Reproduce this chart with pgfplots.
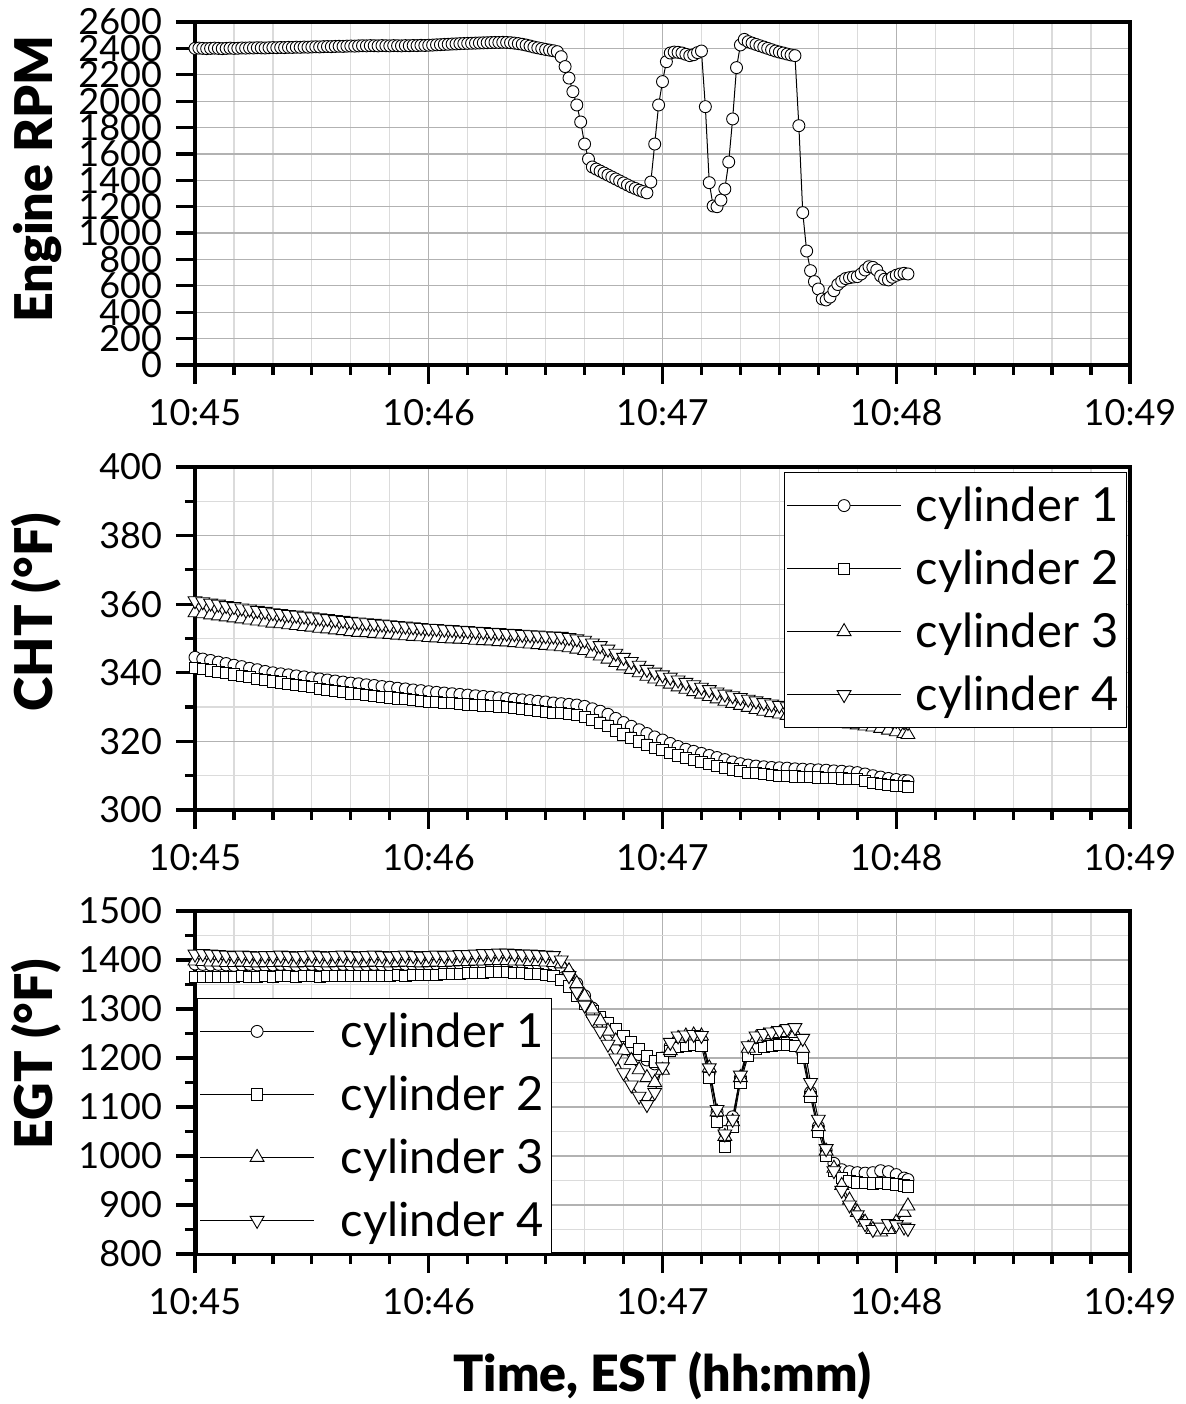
\documentclass[border=0pt]{standalone}
\usepackage{fontspec}
\setmainfont{Lato}[BoldFont={Lato Black}]
\usepackage{pgfplots}
\usepackage{pgfplotstable}
\pgfplotsset{compat=1.18}

\pgfplotstableread{
t rpm
0 2400
1 2402
2 2400
3 2398
4 2400
5 2402
6 2400
7 2398
8 2400
9 2402
10 2400
11 2401
12 2403
13 2402
14 2404
15 2403
16 2405
17 2404
18 2403
19 2405
20 2406
21 2405
22 2407
23 2406
24 2408
25 2407
26 2409
27 2408
28 2410
29 2409
30 2411
31 2412
32 2411
33 2413
34 2414
35 2413
36 2415
37 2416
38 2415
39 2417
40 2418
41 2417
42 2419
43 2420
44 2419
45 2421
46 2420
47 2419
48 2421
49 2420
50 2419
51 2421
52 2420
53 2419
54 2421
55 2420
56 2422
57 2421
58 2423
59 2422
60 2424
61 2425
62 2427
63 2428
64 2430
65 2431
66 2433
67 2434
68 2436
69 2437
70 2438
71 2439
72 2440
73 2441
74 2442
75 2443
76 2444
77 2445
78 2445
79 2446
80 2445
81 2443
82 2440
83 2436
84 2431
85 2425
86 2418
87 2410
88 2404
89 2398
90 2392
91 2387
92 2382
93 2375
94 2337
95 2262
96 2175
97 2072
98 1971
99 1842
100 1675
101 1561
102 1501
103 1485
104 1470
105 1455
106 1440
107 1425
108 1410
109 1395
110 1380
111 1365
112 1350
113 1338
114 1325
115 1315
116 1305
117 1387
118 1675
119 1971
120 2148
121 2299
122 2365
123 2372
124 2370
125 2365
126 2355
127 2345
128 2352
129 2368
130 2380
131 1958
132 1382
133 1205
134 1200
135 1250
136 1334
137 1539
138 1865
139 2254
140 2426
141 2468
142 2451
143 2440
144 2430
145 2420
146 2410
147 2400
148 2390
149 2380
150 2372
151 2365
152 2357
153 2350
154 2345
155 1814
156 1155
157 864
158 715
159 632
160 576
161 500
162 493
163 515
164 563
165 610
166 635
167 655
168 662
169 667
170 670
171 690
172 720
173 745
174 740
175 720
176 675
177 650
178 645
179 665
180 680
181 690
182 695
183 690
}\rpmtable

\pgfplotstableread{
t c1 c2 c3 c4
0 344.5 341.5 357.5 361.0
2 344.0 341.1 357.2 360.7
4 343.6 340.7 356.9 360.3
6 343.1 340.3 356.6 360.0
8 342.7 339.9 356.3 359.6
10 342.2 339.5 356.0 359.3
12 341.8 339.1 355.7 358.9
14 341.3 338.7 355.4 358.6
16 340.9 338.3 355.1 358.2
18 340.4 337.9 354.8 357.9
20 340.0 337.5 354.5 357.5
22 339.7 337.2 354.3 357.3
24 339.4 336.8 354.0 357.0
26 339.1 336.5 353.8 356.8
28 338.8 336.1 353.5 356.5
30 338.5 335.8 353.3 356.3
32 338.2 335.4 353.0 356.0
34 337.9 335.1 352.8 355.8
36 337.6 334.7 352.5 355.5
38 337.3 334.4 352.3 355.3
40 337.0 334.0 352.0 355.0
42 336.8 333.8 351.8 354.8
44 336.5 333.5 351.7 354.6
46 336.3 333.3 351.5 354.4
48 336.0 333.0 351.3 354.2
50 335.8 332.8 351.2 354.0
52 335.5 332.5 351.0 353.8
54 335.3 332.3 350.8 353.6
56 335.0 332.0 350.6 353.4
58 334.8 331.8 350.5 353.2
60 334.5 331.5 350.3 353.0
62 334.3 331.4 350.2 352.9
64 334.1 331.2 350.0 352.7
66 333.9 331.1 349.9 352.6
68 333.7 330.9 349.8 352.4
70 333.5 330.8 349.7 352.3
72 333.3 330.6 349.5 352.1
74 333.1 330.5 349.4 352.0
76 332.9 330.3 349.3 351.8
78 332.7 330.2 349.1 351.7
80 332.5 330.0 349.0 351.5
82 332.3 329.7 348.8 351.4
84 332.1 329.5 348.6 351.2
86 331.9 329.2 348.4 351.1
88 331.7 328.9 348.2 351.0
90 331.5 328.7 348.0 350.8
92 331.2 328.4 347.8 350.7
94 331.0 328.2 347.6 350.6
96 330.8 327.9 347.3 350.3
98 330.6 327.6 346.9 349.9
100 330.2 327.1 346.5 349.5
102 329.5 326.3 345.7 348.7
104 328.8 325.4 344.9 347.9
106 327.9 324.4 344.0 346.9
108 326.7 323.2 343.0 345.7
110 325.5 322.0 342.0 344.5
112 324.4 321.0 341.0 343.3
114 323.4 320.0 340.0 342.2
116 322.3 319.0 339.0 341.0
118 321.3 318.2 338.2 340.2
120 320.4 317.4 337.4 339.4
122 319.4 316.7 336.7 338.7
124 318.5 315.9 335.9 337.9
126 317.7 315.2 335.2 337.2
128 317.1 314.6 334.5 336.5
130 316.5 314.0 333.8 335.8
132 315.9 313.4 333.1 335.1
134 315.3 312.8 332.4 334.4
136 314.7 312.3 331.7 333.8
138 314.0 311.8 331.1 333.3
140 313.5 311.3 330.5 332.8
142 313.1 310.9 329.9 332.3
144 312.8 310.7 329.3 331.8
146 312.6 310.4 328.8 331.3
148 312.4 310.2 328.4 330.9
150 312.3 310.0 328.0 330.5
152 312.2 309.9 327.6 330.1
154 312.0 309.8 327.2 329.7
156 311.9 309.7 326.9 329.4
158 311.8 309.6 326.6 329.1
160 311.7 309.5 326.3 328.8
162 311.6 309.4 326.0 328.5
164 311.4 309.3 325.7 328.2
166 311.3 309.2 325.4 327.9
168 311.1 309.1 325.1 327.7
170 310.9 309.0 324.8 327.5
172 310.5 308.5 324.5 327.3
174 310.0 308.0 324.2 327.1
176 309.6 307.5 323.8 326.8
178 309.2 307.3 323.3 326.5
180 308.9 307.1 322.8 326.1
182 308.6 306.9 322.3 325.7
183 308.5 306.8 322.0 325.5
}\chttable

\pgfplotstableread{
t c1 c2 c3 c4
0 1392 1365 1398 1412
2 1391 1366 1397 1413
4 1390 1366 1396 1412
6 1391 1365 1396 1411
8 1390 1366 1395 1410
10 1389 1366 1395 1409
12 1390 1367 1396 1410
14 1391 1366 1395 1409
16 1390 1366 1394 1408
18 1389 1367 1395 1409
20 1390 1366 1395 1409
22 1391 1367 1396 1410
24 1390 1367 1395 1409
26 1389 1366 1394 1408
28 1390 1367 1395 1409
30 1391 1367 1396 1410
32 1390 1366 1395 1409
34 1389 1367 1394 1408
36 1390 1368 1395 1409
38 1391 1367 1396 1410
40 1390 1368 1395 1409
42 1389 1367 1394 1408
44 1390 1368 1395 1409
46 1391 1368 1396 1410
48 1390 1367 1395 1409
50 1389 1368 1394 1408
52 1390 1369 1395 1409
54 1391 1368 1396 1410
56 1390 1369 1395 1409
58 1389 1369 1394 1408
60 1390 1370 1395 1409
62 1391 1370 1396 1410
64 1390 1371 1395 1409
66 1391 1372 1396 1410
68 1392 1372 1397 1411
70 1392 1373 1397 1411
72 1393 1374 1398 1412
74 1393 1374 1398 1413
76 1394 1375 1399 1413
78 1394 1375 1399 1414
80 1394 1375 1399 1414
82 1393 1374 1398 1413
84 1393 1373 1398 1412
86 1392 1372 1397 1412
88 1392 1371 1397 1411
90 1391 1370 1396 1410
92 1390 1368 1395 1409
94 1386 1360 1392 1400
96 1372 1346 1378 1368
98 1352 1326 1352 1335
100 1327 1310 1326 1308
102 1302 1295 1300 1280
104 1282 1283 1276 1255
106 1266 1272 1255 1228
108 1251 1260 1235 1200
110 1236 1245 1215 1170
112 1221 1232 1195 1145
114 1207 1218 1176 1122
116 1196 1205 1160 1105
118 1188 1193 1150 1130
120 1200 1200 1175 1182
122 1224 1215 1215 1232
124 1237 1222 1240 1245
126 1240 1225 1245 1247
128 1240 1226 1247 1248
130 1236 1224 1245 1246
132 1170 1160 1180 1180
134 1090 1070 1090 1095
136 1050 1018 1040 1045
138 1080 1060 1070 1075
140 1160 1150 1160 1165
142 1210 1205 1220 1225
144 1228 1218 1240 1245
146 1232 1222 1245 1250
148 1235 1225 1248 1253
150 1237 1226 1250 1256
152 1238 1227 1252 1260
154 1236 1225 1250 1262
156 1210 1200 1220 1240
158 1130 1120 1130 1150
160 1060 1050 1060 1075
162 1012 1000 1010 1015
164 985 970 975 970
166 972 955 940 930
168 968 948 910 900
170 966 946 885 880
172 965 945 865 862
174 966 944 850 850
176 970 945 845 855
178 968 944 850 862
180 962 942 865 860
182 955 940 885 855
183 952 938 898 852
}\egttable

\pgfplotsset{
  base/.style={
    scale only axis, width=467.5pt, height=171.5pt,
    xmin=0, xmax=240, xtick={0,60,120,180,240},
    xticklabels={10:45,10:46,10:47,10:48,10:49},
    minor x tick num=5,
    tick pos=left, tick align=outside,
    major tick length=9.5pt, minor tick length=5pt,
    tick style={black, line width=1.6pt},
    axis line style={line width=2pt},
    grid=both,
    major grid style={gray!60, line width=0.6pt},
    minor grid style={gray!28, line width=0.6pt},
    ticklabel style={font=\fontsize{18}{21}\selectfont},
    xticklabel style={yshift=-4pt},
    yticklabel style={xshift=-3.5pt},
    /pgf/number format/assume math mode=true,
    /pgf/number format/1000 sep={},
    legend cell align=left,
    legend image code/.code={\draw[mark repeat=2,mark phase=2] plot coordinates {(0pt,0pt)(28.5pt,0pt)(57pt,0pt)};},
  },
  leg/.style={legend style={draw=black, line width=0.6pt, fill=white,
    font=\fontsize{23.5}{28}\selectfont, inner xsep=1pt, inner ysep=5.5pt,
    row sep=9.5pt,
    nodes={inner xsep=3pt, inner ysep=0pt, text height=19pt, text depth=3pt}}},
  s1/.style={black, line width=0.5pt, mark=*, mark size=3.0pt, mark options={fill=white, draw=black, line width=0.45pt, solid}},
  s2/.style={black, line width=0.5pt, mark=square*, mark size=2.8pt, mark options={fill=white, draw=black, line width=0.45pt, solid}},
  s3/.style={black, line width=0.5pt, mark=triangle*, mark size=4.0pt, mark options={fill=white, draw=black, line width=0.45pt, solid}},
  s4/.style={black, line width=0.5pt, mark=triangle*, mark size=4.0pt, mark options={fill=white, draw=black, line width=0.45pt, solid, rotate=180}},
}

\begin{document}
\begin{tikzpicture}
\path[use as bounding box] (0,0) rectangle (593pt,702pt);

\begin{axis}[base, at={(97.5pt,519.5pt)}, anchor=south west,
  ymin=0, ymax=2600, ytick={0,200,...,2600}, minor y tick num=0]
\addplot[s1] table[x=t, y=rpm] {\rpmtable};
\end{axis}

\begin{axis}[base, leg, at={(97.5pt,297pt)}, anchor=south west,
  ymin=300, ymax=400, ytick={300,320,...,400}, minor y tick num=1,
  legend style={at={(rel axis cs:1,1)}, anchor=north east, xshift=-1.5pt, yshift=-2.5pt,
    /tikz/every odd column/.append style={column sep=4pt}}]
\addplot[s1] table[x=t, y=c1] {\chttable};
\addplot[s2] table[x=t, y=c2] {\chttable};
\addplot[s3] table[x=t, y=c3] {\chttable};
\addplot[s4] table[x=t, y=c4] {\chttable};
\legend{cylinder 1, cylinder 2, cylinder 3, cylinder 4}
\end{axis}

\begin{axis}[base, leg, at={(97.5pt,75pt)}, anchor=south west,
  ymin=800, ymax=1500, ytick={800,900,...,1500}, minor y tick num=1,
  legend style={at={(rel axis cs:0,0)}, anchor=south west, xshift=1pt, yshift=0pt,
    /tikz/every odd column/.append style={column sep=10pt}}]
\addplot[s1] table[x=t, y=c1] {\egttable};
\addplot[s2] table[x=t, y=c2] {\egttable};
\addplot[s3] table[x=t, y=c3] {\egttable};
\addplot[s4] table[x=t, y=c4] {\egttable};
\legend{cylinder 1, cylinder 2, cylinder 3, cylinder 4}
\end{axis}

\node[rotate=90, anchor=base, inner sep=0pt, font=\bfseries\fontsize{26}{30}\selectfont] at (26.5pt,612.5pt) {Engine RPM};
\node[rotate=90, anchor=base, inner sep=0pt, font=\bfseries\fontsize{26}{30}\selectfont] at (26.5pt,396pt) {CHT (°F)};
\node[rotate=90, anchor=base, inner sep=0pt, font=\bfseries\fontsize{26}{30}\selectfont] at (26.5pt,175pt) {EGT (°F)};
\node[anchor=base, inner sep=0pt, font=\bfseries\fontsize{25}{30}\selectfont] at (331.25pt,6pt) {Time, EST (hh:mm)};
\end{tikzpicture}
\end{document}
